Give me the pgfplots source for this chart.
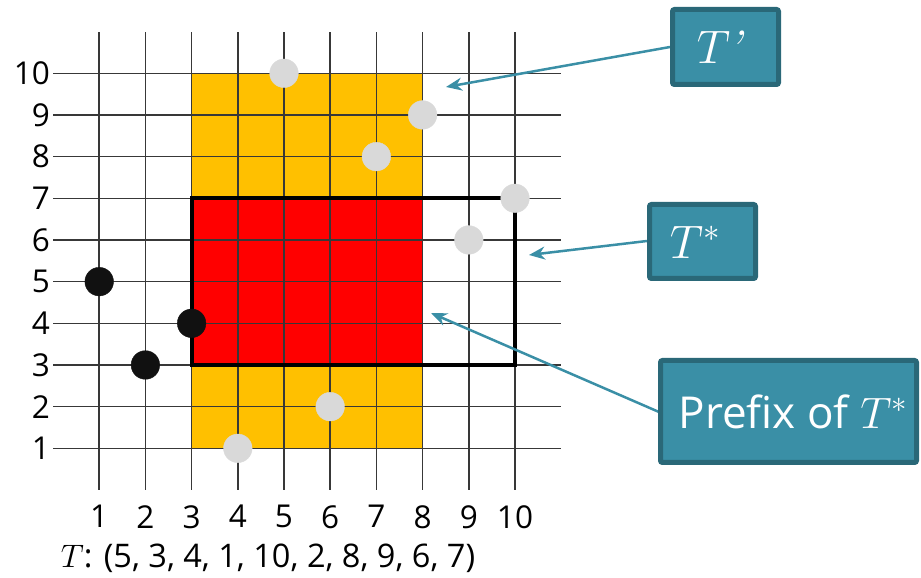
\documentclass[border=0pt]{standalone}
\usepackage{fix-cm}
\usepackage{fontspec}
\setmainfont{Open Sans}
\usepackage{pgfplots}
\pgfplotsset{compat=1.18}
\usetikzlibrary{arrows.meta}
\definecolor{gold}{HTML}{FFC000}
\definecolor{teal1}{HTML}{3A8FA6}
\definecolor{teal2}{HTML}{2A6878}
\definecolor{dotgray}{HTML}{D9D9D9}
\definecolor{dotblack}{HTML}{111111}
\newcommand\lmit{\fontfamily{lmr}\fontshape{it}\selectfont}
\begin{document}
\begin{tikzpicture}
\begin{axis}[
  at={(53pt,88pt)}, anchor=south west,
  scale only axis, width=508.2pt, height=458.4pt,
  xmin=0, xmax=11, ymin=0, ymax=11,
  xtick={1,...,10}, ytick={1,...,10},
  grid=major, major grid style={line width=1.5pt, color=black!78},
  axis line style={draw=none}, major tick length=0pt,
  set layers,
  tick label style={font=\fontsize{31.5}{31.5}\selectfont},
  /pgf/number format/assume math mode=true,
  yticklabel style={anchor=east, inner sep=0pt, xshift=-3pt},
  xticklabel style={anchor=north, inner sep=0pt, yshift=-15pt},
  clip=false,
]
\addplot[fill=gold, draw=none, on layer=axis background] coordinates {(3,1)(8,1)(8,10)(3,10)} -- cycle;
\addplot[fill=red, draw=none, on layer=axis background] coordinates {(3,3)(8,3)(8,7)(3,7)} -- cycle;
\addplot[black, line width=3.8pt, mark=none] coordinates {(3,3)(10,3)(10,7)(3,7)} -- cycle;
\addplot[only marks, mark=*, mark size=14.3pt, color=dotblack, mark options={solid, fill=dotblack, draw=dotblack}] coordinates {(1,5)(2,3)(3,4)};
\addplot[only marks, mark=*, mark size=14.3pt, color=dotgray, mark options={solid, fill=dotgray, draw=dotgray}] coordinates {(4,1)(5,10)(6,2)(7,8)(8,9)(9,6)(10,7)};
\end{axis}
\begin{scope}[x=1pt,y=1pt]
\node[font=\fontsize{32.5}{32.5}\selectfont] at (268,20) {$T$: (5, 3, 4, 1, 10, 2, 8, 9, 6, 7)};
% arrows
\draw[teal1, line width=2.5pt, -{Stealth[length=16pt,width=13pt]}] (670,531) -- (446,491);
\draw[teal1, line width=2.5pt, -{Stealth[length=16pt,width=13pt]}] (647,337) -- (529,323);
\draw[teal1, line width=2.5pt, -{Stealth[length=16pt,width=13pt]}] (659,166) -- (431,265);
% boxes
\draw[fill=teal1, draw=teal2, line width=5pt, rounded corners=2pt] (672.5,493.5) rectangle (778.5,568.5);
\draw[fill=teal1, draw=teal2, line width=5pt, rounded corners=2pt] (649.5,299.5) rectangle (755.5,373.5);
\draw[fill=teal1, draw=teal2, line width=5pt, rounded corners=2pt] (660.5,115.5) rectangle (916.5,217.5);
\node[white, font=\fontsize{47}{47}\selectfont] at (719,531) {$T$\kern-3pt{\lmit ’}};
\node[white, font=\fontsize{47}{47}\selectfont] at (695,336) {$T^{*}$};
\node[white, font=\fontsize{44}{44}\selectfont] at (793,166) {Prefix of $T^{*}$};
\pgfresetboundingbox
\path[use as bounding box] (0,0) rectangle (921,578);
\end{scope}
\end{tikzpicture}
\end{document}
